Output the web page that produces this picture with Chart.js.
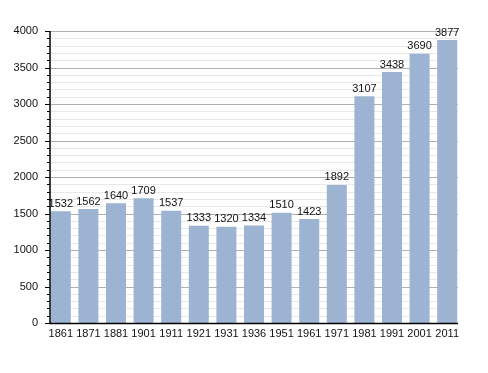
<!DOCTYPE html>
<html>
<head>
<meta charset="UTF-8">
<style>
  body { margin: 0; background: #fff; }
  #wrap { width: 488px; height: 373px; position: relative; }
</style>
</head>
<body>
<div id="wrap"><canvas id="popChart" width="488" height="373"></canvas></div>
<script src="https://cdn.jsdelivr.net/npm/chart.js"></script>
<script>
// dados
const years = ['1861','1871','1881','1901','1911','1921','1931','1936','1951','1961','1971','1981','1991','2001','2011'];
const population = [1532,1562,1640,1709,1537,1333,1320,1334,1510,1423,1892,3107,3438,3690,3877];
const yMax = 4000;

// eixo desenhado à mão: linhas de grade, marcas e bordas (a área útil fica 3px além)
const AX_L = 50, AX_R = 458;

const gridPlugin = {
  id: 'gridPlugin',
  beforeDatasetsDraw(chart) {
    const ctx = chart.ctx;
    const y = chart.scales.y;
    ctx.save();
    ctx.lineWidth = 1;
    for (let v = 0; v <= yMax; v += 100) {
      const py = Math.round(y.getPixelForValue(v)) + 0.5;
      ctx.strokeStyle = v % 500 === 0 ? '#b0b0b0' : '#e8e8e8';
      ctx.beginPath();
      ctx.moveTo(AX_L, py);
      ctx.lineTo(AX_R, py);
      ctx.stroke();
    }
    ctx.restore();
  },
  afterDatasetsDraw(chart) {
    const ctx = chart.ctx;
    const meta = chart.getDatasetMeta(0);
    const y = chart.scales.y;
    ctx.save();
    // valores acima das barras
    ctx.font = '11px "Liberation Sans", Arial, sans-serif';
    ctx.fillStyle = '#111';
    ctx.textAlign = 'center';
    ctx.textBaseline = 'bottom';
    meta.data.forEach((bar, i) => {
      ctx.fillText(String(population[i]), bar.x, bar.y - 2);
    });
    // marcas
    ctx.strokeStyle = '#000';
    ctx.lineWidth = 1;
    for (let v = 0; v <= yMax; v += 100) {
      const py = Math.round(y.getPixelForValue(v)) + 0.5;
      const len = v % 500 === 0 ? 5 : 3;
      ctx.beginPath();
      ctx.moveTo(AX_L - len, py);
      ctx.lineTo(AX_L, py);
      ctx.stroke();
    }
    // bordas
    const top = Math.round(y.getPixelForValue(yMax));
    const bottom = Math.round(y.getPixelForValue(0));
    ctx.lineWidth = 1.5;
    ctx.beginPath();
    ctx.moveTo(AX_L, top);
    ctx.lineTo(AX_L, bottom + 0.5);
    ctx.lineTo(AX_R, bottom + 0.5);
    ctx.stroke();
    ctx.restore();
  }
};

new Chart(document.getElementById('popChart'), {
  type: 'bar',
  data: {
    labels: years,
    datasets: [{
      data: population,
      backgroundColor: '#9cb4d2',
      borderWidth: 0,
      barPercentage: 0.725,
      categoryPercentage: 1
    }]
  },
  options: {
    responsive: false,
    animation: false,
    layout: { padding: { top: 31, right: 27, left: 0, bottom: 0 } },
    plugins: { legend: { display: false }, tooltip: { enabled: false } },
    scales: {
      x: {
        afterFit(s) { s.height = 50; },
        grid: { display: false, drawTicks: false },
        border: { display: false },
        ticks: {
          color: '#111',
          padding: 4,
          maxRotation: 0,
          autoSkip: false,
          font: { family: '"Liberation Sans", Arial, sans-serif', size: 11 }
        }
      },
      y: {
        min: 0,
        max: yMax,
        afterFit(s) { s.width = 47; },
        border: { display: false },
        grid: { display: false, drawTicks: false },
        ticks: {
          stepSize: 500,
          padding: 9,
          color: '#111',
          font: { family: '"Liberation Sans", Arial, sans-serif', size: 11 },
          callback: v => String(v)
        }
      }
    }
  },
  plugins: [gridPlugin]
});
</script>
</body>
</html>
